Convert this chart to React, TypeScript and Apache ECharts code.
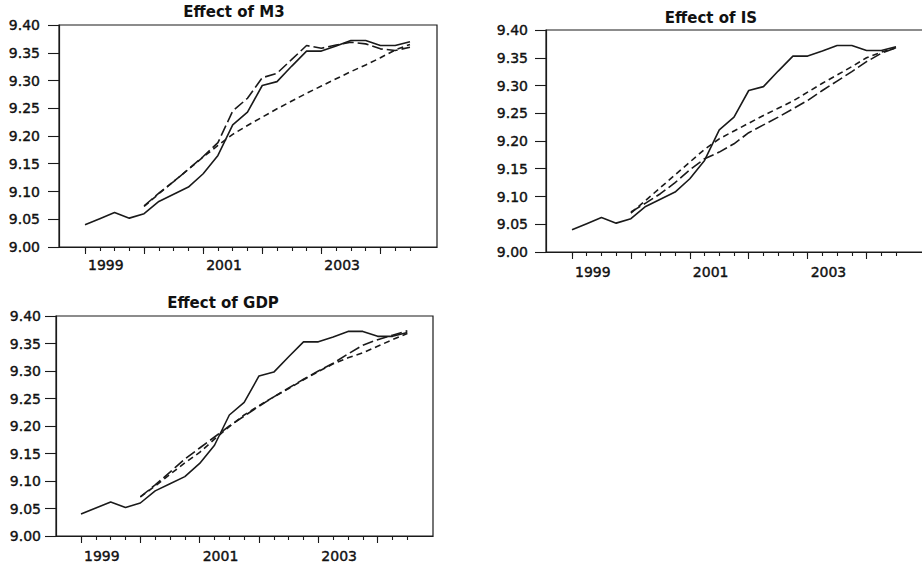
import React, { useEffect, useRef } from "react";
import * as echarts from "echarts";

// Quarterly observations, 1999Q1 .. 2004Q3 (index 0 = 1999Q1)
const FIRST_YEAR = 1999;
const actual = [
  9.040, 9.051, 9.062, 9.052, 9.060, 9.082, 9.095, 9.108, 9.132, 9.165, 9.220, 9.243,
  9.291, 9.298, 9.326, 9.353, 9.353, 9.362, 9.372, 9.372, 9.363, 9.363, 9.370,
];

// Simulated paths start at 2000Q1 (index 4)
const SIM_START = 4;
const m3Long = [
  9.074, 9.097, 9.118, 9.140, 9.163, 9.188, 9.245, 9.268, 9.305, 9.313, 9.338, 9.363,
  9.358, 9.364, 9.369, 9.366, 9.357, 9.354, 9.360,
];
const m3Short = [
  9.073, 9.096, 9.118, 9.140, 9.162, 9.183, 9.203, 9.219, 9.234, 9.249, 9.263, 9.277,
  9.290, 9.303, 9.316, 9.328, 9.341, 9.355, 9.365,
];
const isLong = [
  9.072, 9.088, 9.105, 9.125, 9.148, 9.168, 9.180, 9.195, 9.215, 9.229, 9.243, 9.258,
  9.273, 9.291, 9.308, 9.325, 9.343, 9.358, 9.368,
];
const isShort = [
  9.070, 9.093, 9.116, 9.139, 9.162, 9.185, 9.204, 9.218, 9.232, 9.246, 9.259, 9.272,
  9.288, 9.304, 9.319, 9.334, 9.350, 9.360, 9.368,
];
const gdpLong = [
  9.071, 9.093, 9.116, 9.140, 9.160, 9.180, 9.200, 9.218, 9.236, 9.253, 9.269, 9.285,
  9.300, 9.314, 9.331, 9.347, 9.357, 9.365, 9.373,
];
const gdpShort = [
  9.071, 9.091, 9.112, 9.133, 9.152, 9.176, 9.199, 9.220, 9.237, 9.253, 9.268, 9.284,
  9.299, 9.313, 9.324, 9.333, 9.345, 9.357, 9.368,
];

const titles = ["Effect of M3", "Effect of IS", "Effect of GDP"];
const yearLabels = ["1999", "2001", "2003"];
const Y_MIN = 9.0;
const Y_MAX = 9.4;
const Y_STEP = 0.05;

const quarterTicks = actual.map((_, i) => i);
const yearTicks = quarterTicks.filter((i) => i % 4 === 0);
const labelTicks = yearLabels.map((y) => (Number(y) - FIRST_YEAR) * 4);

const INK = "#1a1a1a";
const FONT = "DejaVu Sans";

const panels = [
  { left: 59, top: 25, width: 378, height: 222, xMin: -1.76, xMax: 23.83, yMargin: 19, xMargin: 11, titleX: 234, titleY: 12, long: m3Long, short: m3Short },
  { left: 546, top: 30, width: 378, height: 222, xMin: -1.765, xMax: 23.9, yMargin: 18, xMargin: 13, titleX: 711, titleY: 18, long: isLong, short: isShort },
  { left: 56, top: 316, width: 377, height: 220, xMin: -1.686, xMax: 23.73, yMargin: 15, xMargin: 13, titleX: 223, titleY: 303, long: gdpLong, short: gdpShort },
];

const toPairs = (vals: number[], start: number) => vals.map((v, i) => [start + i, v]);

const labelText = {
  fontFamily: FONT,
  fontSize: 14,
  color: "#111",
  textBorderColor: "#111",
  textBorderWidth: 0.4,
};

function buildOption() {
  const grid: any[] = [];
  const xAxis: any[] = [];
  const yAxis: any[] = [];
  const series: any[] = [];
  const graphic: any[] = [];

  panels.forEach((p, k) => {
    grid.push({
      left: p.left,
      top: p.top,
      width: p.width,
      height: p.height,
      show: true,
      borderColor: INK,
      borderWidth: 1.2,
      backgroundColor: "transparent",
      containLabel: false,
      outerBoundsMode: "none",
    });

    // quarterly minor ticks (carries the data)
    xAxis.push({
      type: "value",
      gridIndex: k,
      min: p.xMin,
      max: p.xMax,
      position: "bottom",
      axisLine: { show: true, onZero: false, lineStyle: { color: INK, width: 1.2 } },
      axisTick: { show: true, customValues: quarterTicks, length: 4, lineStyle: { color: INK, width: 1.1 } },
      axisLabel: { show: false },
      splitLine: { show: false },
    });
    // yearly ticks and year labels
    xAxis.push({
      type: "value",
      gridIndex: k,
      min: p.xMin,
      max: p.xMax,
      position: "bottom",
      axisLine: { show: false, onZero: false },
      axisTick: { show: true, customValues: yearTicks, length: 7, lineStyle: { color: INK, width: 1.1 } },
      axisLabel: {
        show: true,
        customValues: labelTicks,
        formatter: (v: number) => String(FIRST_YEAR + Math.round(v) / 4),
        align: "left",
        padding: [0, 0, 0, 3],
        margin: p.xMargin,
        ...labelText,
      },
      splitLine: { show: false },
    });

    yAxis.push({
      type: "value",
      gridIndex: k,
      min: Y_MIN,
      max: Y_MAX,
      interval: Y_STEP,
      axisLine: { show: true, onZero: false, lineStyle: { color: INK, width: 1.2 } },
      axisTick: { show: true, length: 11, lineStyle: { color: INK, width: 1.1 } },
      axisLabel: {
        formatter: (v: number) => v.toFixed(2),
        margin: p.yMargin,
        ...labelText,
      },
      splitLine: { show: false },
    });

    const common = {
      type: "line",
      xAxisIndex: 2 * k,
      yAxisIndex: k,
      symbol: "none",
      showSymbol: false,
      silent: true,
    };
    series.push({
      ...common,
      name: "actual",
      data: toPairs(actual, 0),
      lineStyle: { color: INK, width: 1.6, type: "solid" },
    });
    series.push({
      ...common,
      name: "long",
      data: toPairs(p.long, SIM_START),
      lineStyle: { color: INK, width: 1.6, type: [11, 4] },
    });
    series.push({
      ...common,
      name: "short",
      data: toPairs(p.short, SIM_START),
      lineStyle: { color: INK, width: 1.6, type: [6, 4] },
    });

    graphic.push({
      type: "text",
      x: p.titleX,
      y: p.titleY,
      style: {
        text: titles[k],
        fontFamily: FONT,
        fontSize: 15,
        fontWeight: "bold",
        fill: "#111",
        align: "center",
        verticalAlign: "middle",
      },
    });
  });

  return {
    animation: false,
    backgroundColor: "#fff",
    grid,
    xAxis,
    yAxis,
    series,
    graphic,
  };
}

export default function App() {
  const ref = useRef<HTMLDivElement>(null);
  useEffect(() => {
    if (!ref.current) return;
    const chart = echarts.init(ref.current, null, { renderer: "svg" });
    chart.setOption(buildOption() as any);
    return () => chart.dispose();
  }, []);
  return (
    <div
      ref={ref}
      style={{ position: "fixed", left: 0, top: 0, width: 922, height: 567, background: "#fff" }}
    />
  );
}
